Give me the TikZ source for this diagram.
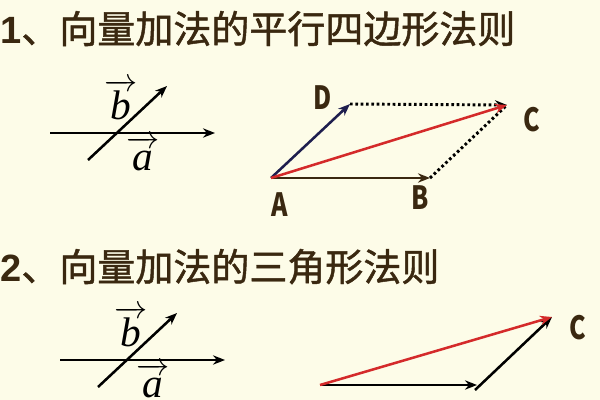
\documentclass[tikz,border=0pt]{standalone}
\usepackage{fontspec}
\setmainfont{Liberation Serif}
\newfontfamily\cjkfont[FakeBold=1.2]{Noto Sans CJK SC}
\newfontfamily\numfont{Liberation Sans}
\newfontfamily\ptfont[FakeStretch=0.78]{Noto Sans CJK SC}
\usetikzlibrary{arrows.meta,positioning}
\definecolor{paper}{HTML}{FDFCE8}
\definecolor{ink}{HTML}{3A2810}
\definecolor{navy}{HTML}{1E1E4E}
\definecolor{sumred}{HTML}{D42A2A}
\tikzset{%
  vec/.style={-{Stealth[length=9pt,width=7pt]},line width=1.9pt},
  sum/.style={vec,draw=sumred},
  aux/.style={line width=2.2pt,dash pattern=on 2pt off 2pt},
  heading/.style={anchor=base west,inner sep=0pt,text=ink,font=\cjkfont\fontsize{28.5}{31}\selectfont},
  vlabel/.style={anchor=base,inner sep=0pt,font=\fontsize{31}{34}\selectfont},
  point/.style={inner sep=0pt,text=ink,font=\ptfont\bfseries\fontsize{24}{26}\selectfont}%
}
\newcommand{\vecname}[1]{$\overrightarrow{\hbox{\itshape #1}\vphantom{b}}$}

\begin{document}
\begin{tikzpicture}[x=0.75pt,y=-0.75pt]
  \fill[paper] (0,0) rectangle (600,400);
  \useasboundingbox (0,0) rectangle (600,400);

  % headings
  \node (head_a) [heading] at (0,43) {{\numfont\bfseries 1}、向量加法的平行四边形法则};
  \node (head_b) [heading] at (0,281) {{\numfont\bfseries 2}、向量加法的三角形法则};

  % the two vectors, first rule
  \coordinate (a_s) at (50,133);  \coordinate (a_e) at (215,133);
  \coordinate (b_s) at (88,160);  \coordinate (b_e) at (167,86);
  \draw[vec] (a_s) -- (a_e);
  \draw[vec] (b_s) -- (b_e);
  \node (lbl_b) [vlabel] at (121,119) {\vecname{b}};
  \node (lbl_a) [vlabel] at (143,170) {\vecname{a}};

  % parallelogram
  \coordinate (A) at (271,178);  \coordinate (B) at (430,178);
  \coordinate (D) at (350,104);  \coordinate (C) at (507,105);
  \draw[vec,draw=ink] (A) -- (B);
  \draw[vec,draw=navy] (A) -- (D);
  \draw[aux] (B) -- (C);
  \draw[aux,-{Stealth[length=9pt,width=7pt]}] (D) -- (C);
  \draw[sum] (A) -- (C);
  \node (lbl_A) [point] at (280,205) {A};
  \node (lbl_B) [point] at (420,198) {B};
  \node (lbl_C) [point] at (532,120) {C};
  \node (lbl_D) [point] at (323,98) {D};

  % the two vectors, second rule
  \coordinate (a2_s) at (60,360);  \coordinate (a2_e) at (225,360);
  \coordinate (b2_s) at (98,387);  \coordinate (b2_e) at (177,313);
  \draw[vec] (a2_s) -- (a2_e);
  \draw[vec] (b2_s) -- (b2_e);
  \node (lbl_b2) [vlabel] at (131,346) {\vecname{b}};
  \node (lbl_a2) [vlabel] at (153,397) {\vecname{a}};

  % triangle
  \coordinate (P) at (320,385);  \coordinate (Q) at (477,385);
  \coordinate (R) at (552,317);
  \draw[vec] (P) -- (Q);
  \draw[vec] (475,390) -- (R);
  \draw[sum] (P) -- (R);
  \node (lbl_R) [point] at (578,328) {C};
\end{tikzpicture}
\end{document}
